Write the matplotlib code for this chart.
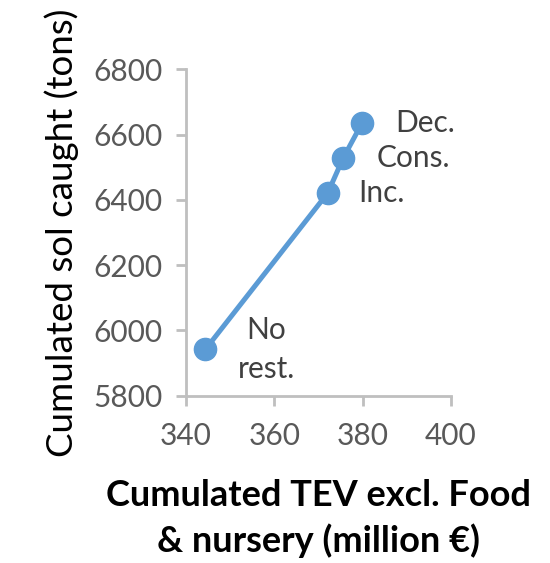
import matplotlib
matplotlib.use("Agg")
import matplotlib.pyplot as plt

# scenario values
scenarios = ["No\nrest.", "Inc.", "Cons.", "Dec."]
tev = [344.4, 372.1, 375.6, 379.9]
sol_caught = [5942, 6421, 6528, 6636]
x_ticks = [340, 360, 380, 400]
y_ticks = [5800, 6000, 6200, 6400, 6600, 6800]

plt.rcParams['font.family'] = ['Lato', 'DejaVu Sans']

fig = plt.figure(figsize=(5.5, 5.63), dpi=100)
ax = fig.add_axes([0.338, 0.297, 0.482, 0.58])

blue = "#5B9BD5"
grey = "#BFBFBF"

ax.plot(tev, sol_caught, color=blue, lw=3.6, marker="o", ms=16, zorder=3)

# label offsets in points
offsets = [(44, 0), (22, 0), (24, 0), (24, 0)]
for name, x, y, off in zip(scenarios, tev, sol_caught, offsets):
    ha = "center" if "\n" in name else "left"
    ax.annotate(name, (x, y), xytext=off, textcoords="offset points",
                ha=ha, va="center", fontsize=21.5, color="#404040",
                linespacing=1.5)

ax.set_xlim(340, 400)
ax.set_ylim(5800, 6800)
ax.set_xticks(x_ticks)
ax.set_yticks(y_ticks)

for side in ["top", "right"]:
    ax.spines[side].set_visible(False)
for side in ["left", "bottom"]:
    ax.spines[side].set_color(grey)
    ax.spines[side].set_linewidth(2)
ax.tick_params(colors=grey, width=2, length=7, labelsize=21.5,
               labelcolor="#595959")
ax.tick_params(axis="y", pad=10)
ax.tick_params(axis="x", pad=12)

ax.set_ylabel("Cumulated sol caught (tons)", fontsize=26.5, color="black", labelpad=10)
ax.set_xlabel("Cumulated TEV excl. Food\n& nursery (million €)", fontsize=26,
              fontweight="bold", color="black", labelpad=21, linespacing=1.4)

fig.savefig("out.png", dpi=100)
